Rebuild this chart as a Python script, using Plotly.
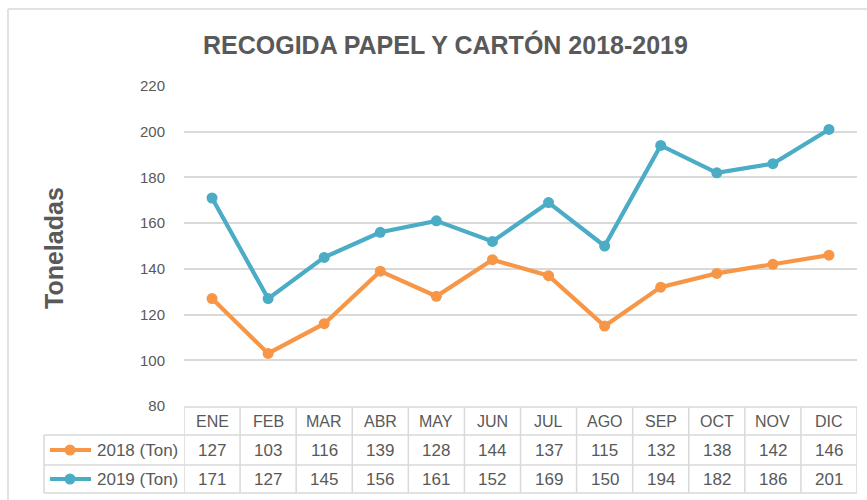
import plotly.graph_objects as go

months = ["ENE", "FEB", "MAR", "ABR", "MAY", "JUN", "JUL", "AGO", "SEP", "OCT", "NOV", "DIC"]
ton_2018 = [127, 103, 116, 139, 128, 144, 137, 115, 132, 138, 142, 146]
ton_2019 = [171, 127, 145, 156, 161, 152, 169, 150, 194, 182, 186, 201]
series_names = ["2018 (Ton)", "2019 (Ton)"]
y_ticks = [80, 100, 120, 140, 160, 180, 200, 220]

W, H = 867, 500
ORANGE = "#F79646"
BLUE = "#4BACC6"
GRID = "#D9D9D9"
TXT = "#595959"
FONT = "Liberation Sans"

def fx(p):
    return p / W

def fy(p):
    return 1 - p / H

PL, PR = 184, 857
PT, PB = 86, 406
ROWS = [407, 435, 465, 493]
LABEL_L = 44

xs = list(range(len(months)))

fig = go.Figure()
for name, vals, col in [(series_names[0], ton_2018, ORANGE), (series_names[1], ton_2019, BLUE)]:
    fig.add_trace(go.Scatter(
        x=xs, y=vals, name=name, mode="lines+markers",
        line=dict(color=col, width=4.2),
        marker=dict(color=col, size=11),
        showlegend=False, hoverinfo="skip",
    ))

shapes = []
annotations = []

# outer chart border
shapes.append(dict(type="line", xref="paper", yref="paper", x0=fx(8), x1=fx(867), y0=fy(9), y1=fy(9),
                   line=dict(color=GRID, width=1.5)))
shapes.append(dict(type="line", xref="paper", yref="paper", x0=fx(8), x1=fx(8), y0=fy(9), y1=fy(500),
                   line=dict(color=GRID, width=1.5)))

# table horizontal lines
shapes.append(dict(type="line", xref="paper", yref="paper", x0=fx(PL), x1=fx(PR), y0=fy(ROWS[0]), y1=fy(ROWS[0]),
                   line=dict(color=GRID, width=1.5)))
for r in ROWS[1:]:
    shapes.append(dict(type="line", xref="paper", yref="paper", x0=fx(LABEL_L), x1=fx(PR), y0=fy(r), y1=fy(r),
                       line=dict(color=GRID, width=1.5)))
# table vertical lines
shapes.append(dict(type="line", xref="paper", yref="paper", x0=fx(LABEL_L), x1=fx(LABEL_L), y0=fy(ROWS[1]), y1=fy(ROWS[3]),
                   line=dict(color=GRID, width=1.5)))
for i in range(len(months) + 1):
    shapes.append(dict(type="line", xref="x", yref="paper", x0=i - 0.5, x1=i - 0.5, y0=fy(ROWS[0]), y1=fy(ROWS[3]),
                       line=dict(color=GRID, width=1.5)))

def cy(a, b):
    return fy((a + b) / 2)

for i, m in enumerate(months):
    annotations.append(dict(x=i, y=cy(ROWS[0], ROWS[1]), xref="x", yref="paper", text=m, showarrow=False,
                            xanchor="center", yanchor="middle",
                            font=dict(size=16, color=TXT, family=FONT)))
for ri, (vals, col, name) in enumerate([(ton_2018, ORANGE, series_names[0]), (ton_2019, BLUE, series_names[1])]):
    yc = cy(ROWS[ri + 1], ROWS[ri + 2])
    for i, v in enumerate(vals):
        annotations.append(dict(x=i, y=yc, xref="x", yref="paper", text=str(v), showarrow=False,
                                xanchor="center", yanchor="middle",
                                font=dict(size=17, color=TXT, family=FONT)))
    annotations.append(dict(x=fx(95), y=yc, xref="paper", yref="paper", text=name, showarrow=False,
                            xanchor="left", yanchor="middle", font=dict(size=17, color=TXT, family=FONT)))
    shapes.append(dict(type="line", xref="paper", yref="paper", x0=fx(50), x1=fx(91), y0=yc, y1=yc,
                       line=dict(color=col, width=4.2)))
    shapes.append(dict(type="circle", xref="paper", yref="paper", x0=fx(64.5), x1=fx(75.5),
                       y0=yc - 5.5 / H, y1=yc + 5.5 / H, fillcolor=col, line=dict(color=col, width=0)))

# titles
annotations.append(dict(x=fx(446), y=fy(45), xref="paper", yref="paper", text="<b>RECOGIDA PAPEL Y CARTÓN 2018-2019</b>",
                        showarrow=False, xanchor="center", yanchor="middle",
                        font=dict(size=25, color=TXT, family="Liberation Sans Narrow, " + FONT)))
annotations.append(dict(x=fx(54), y=fy(248), xref="paper", yref="paper", text="<b>Toneladas</b>", textangle=-90,
                        showarrow=False, xanchor="center", yanchor="middle",
                        font=dict(size=25, color=TXT, family=FONT)))

fig.update_layout(
    template="none",
    width=W, height=H,
    margin=dict(l=0, r=0, t=0, b=0, pad=0, autoexpand=False),
    paper_bgcolor="white", plot_bgcolor="white",
    showlegend=False,
    shapes=shapes, annotations=annotations,
    xaxis=dict(domain=[fx(PL), fx(PR)], range=[-0.5, len(months) - 0.5], showgrid=False, zeroline=False,
               showticklabels=False, showline=False, ticks="", fixedrange=True, automargin=False),
    yaxis=dict(domain=[fy(PB), fy(PT)], range=[80, 220], tickvals=y_ticks, showgrid=True, gridcolor=GRID,
               gridwidth=1.5, zeroline=False, showline=False, ticks="", ticklabelstandoff=18,
               tickfont=dict(size=15, color=TXT, family=FONT), fixedrange=True, automargin=False),
)

fig.write_html("out.html", config={"displayModeBar": False},
               post_script="document.body.style.margin='0';document.body.style.overflow='hidden';")
